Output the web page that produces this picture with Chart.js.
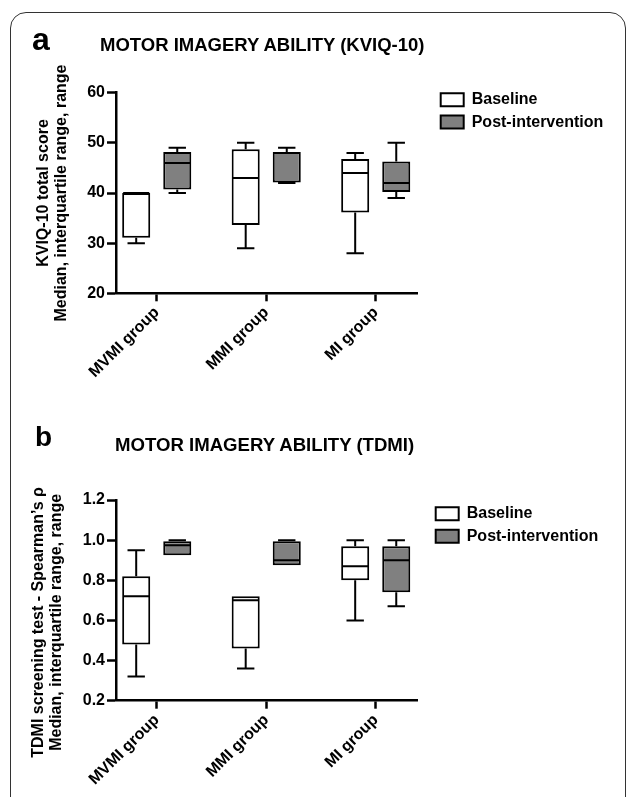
<!DOCTYPE html>
<html><head><meta charset="utf-8">
<script src="https://cdn.jsdelivr.net/npm/chart.js@4.4.1/dist/chart.umd.min.js"></script>
<style>
html,body{margin:0;padding:0;background:#fff;}
body{width:629px;height:797px;position:relative;overflow:hidden;font-family:"Liberation Sans",Arial,sans-serif;}
#frame{position:absolute;left:10px;top:12px;width:616px;height:830px;border:1.5px solid #333;border-radius:16px;box-sizing:border-box;}
.lbl{position:absolute;font-weight:bold;line-height:1;color:#000;white-space:nowrap;}
canvas{position:absolute;left:0;}
</style></head><body>
<div id="frame"></div>
<canvas id="ca" width="629" height="390" style="top:0"></canvas>
<canvas id="cb" width="629" height="397" style="top:400px"></canvas>
<div class="lbl" style="left:32px;top:23px;font-size:32px">a</div>
<div class="lbl" style="left:100px;top:35.5px;font-size:18.5px">MOTOR IMAGERY ABILITY (KVIQ-10)</div>
<div class="lbl" style="left:35px;top:423px;font-size:28px">b</div>
<div class="lbl" style="left:115px;top:436px;font-size:18.6px">MOTOR IMAGERY ABILITY (TDMI)</div>
<script>
// ---- data ----
const categories = ['MVMI group', 'MMI group', 'MI group'];
const seriesNames = ['Baseline', 'Post-intervention'];
// each entry: [min, q1, median, q3, max]
const kviqBaseline = [[30, 31.1, 40, 40, 40], [29, 33.6, 43, 48.7, 50], [28, 36.1, 44, 46.8, 48]];
const kviqPost     = [[40, 40.7, 46, 48.2, 49], [42, 42.1, 48, 48.2, 49], [39, 40.2, 42, 46.3, 50]];
const tdmiBaseline = [[0.32, 0.48, 0.72, 0.82, 0.95], [0.36, 0.46, 0.70, 0.72, 0.72], [0.60, 0.80, 0.87, 0.97, 1.00]];
const tdmiPost     = [[0.925, 0.925, 0.975, 0.995, 1.00], [0.875, 0.875, 0.90, 0.995, 1.00], [0.67, 0.74, 0.90, 0.97, 1.00]];
const kviqTicks = [20, 30, 40, 50, 60];
const tdmiTicks = [0.2, 0.4, 0.6, 0.8, 1.0, 1.2];
const kviqTitle = ['KVIQ-10 total score', 'Median, interquartile range, range'];
const tdmiTitle = ['TDMI screening test - Spearman\u2019s \u03c1', 'Median, interquartile range, range'];

// ---- plugins ----
const boxWhiskers = {
  id: 'boxWhiskers',
  afterDatasetsDraw(chart) {
    const ctx = chart.ctx, ys = chart.scales.y;
    chart.data.datasets.forEach((ds, i) => {
      const meta = chart.getDatasetMeta(i);
      if (meta.hidden) return;
      meta.data.forEach((bar, j) => {
        const s = ds.stats[j];
        const p = bar.getProps(['x', 'width'], true);
        const x = p.x, w = p.width, cap = w * 0.62;
        const yMin = ys.getPixelForValue(s[0]), yQ1 = ys.getPixelForValue(s[1]),
              yMed = ys.getPixelForValue(s[2]), yQ3 = ys.getPixelForValue(s[3]),
              yMax = ys.getPixelForValue(s[4]);
        ctx.save();
        ctx.strokeStyle = '#000';
        ctx.lineWidth = 2;
        ctx.beginPath();
        if (yQ3 - yMax > 0.5) {
          ctx.moveTo(x, yQ3); ctx.lineTo(x, yMax);
          ctx.moveTo(x - cap / 2, yMax); ctx.lineTo(x + cap / 2, yMax);
        }
        if (yMin - yQ1 > 0.5) {
          ctx.moveTo(x, yQ1); ctx.lineTo(x, yMin);
          ctx.moveTo(x - cap / 2, yMin); ctx.lineTo(x + cap / 2, yMin);
        }
        ctx.moveTo(x - w / 2 + 1, yMed); ctx.lineTo(x + w / 2 - 1, yMed);
        ctx.stroke();
        ctx.restore();
      });
    });
  }
};
const legendPlace = {
  id: 'legendPlace',
  afterLayout(chart, args, opts) {
    const lg = chart.legend;
    if (!lg) return;
    lg.left = opts.left; lg.top = opts.top;
    lg.width = 200; lg.height = 70;
    lg.right = lg.left + 200; lg.bottom = lg.top + 70;
  }
};

const boldFont = (size) => ({ family: 'Liberation Sans', size: size, weight: 'bold' });

function makeChart(id, baseStats, postStats, yTicks, yTitle, lay) {
  const mkData = (st) => st.map((s, j) => ({ x: j, y: [s[1], s[3]] }));
  return new Chart(document.getElementById(id), {
    type: 'bar',
    data: {
      datasets: [
        { label: seriesNames[0], stats: baseStats, data: mkData(baseStats),
          backgroundColor: '#ffffff', borderColor: '#000000', borderWidth: 2, borderSkipped: false },
        { label: seriesNames[1], stats: postStats, data: mkData(postStats),
          backgroundColor: '#808080', borderColor: '#000000', borderWidth: 2, borderSkipped: false }
      ]
    },
    options: {
      responsive: false, animation: false, devicePixelRatio: 1,
      datasets: { bar: { categoryPercentage: 0.75, barPercentage: 0.683 } },
      layout: { padding: { top: lay.top, left: 0, right: 212, bottom: 0 } },
      plugins: {
        tooltip: { enabled: false },
        legend: {
          position: 'chartArea', align: 'start',
          labels: { boxWidth: 23, boxHeight: 13, padding: lay.legPad, color: '#000', font: boldFont(16) }
        },
        legendPlace: { left: lay.legLeft, top: lay.legTop }
      },
      scales: {
        x: {
          type: 'linear', min: -0.372, max: 2.377, offset: false, bounds: 'data',
          afterBuildTicks: (s) => { s.ticks = categories.map((c, i) => ({ value: i })); },
          afterFit: (s) => { s.height = lay.xh; },
          ticks: { callback: (v) => categories[v], minRotation: 45, maxRotation: 45, autoSkip: false,
                   font: boldFont(16), color: '#000', padding: 2 },
          grid: { offset: false, drawOnChartArea: false, tickLength: 8, tickWidth: 2.5, tickColor: '#000' },
          border: { color: '#000', width: 2.5 }
        },
        y: {
          min: yTicks[0], max: yTicks[yTicks.length - 1],
          afterBuildTicks: (s) => { s.ticks = yTicks.map((v) => ({ value: v })); },
          afterFit: (s) => {
            s.width = 116;
            if (!s._titleShifted) {
              const orig = s.drawTitle;
              s.drawTitle = function () {
                this.ctx.save();
                this.ctx.translate(0, lay.titleShift);
                orig.call(this);
                this.ctx.restore();
              };
              s._titleShifted = true;
            }
          },
          ticks: { callback: (v) => (yTicks[1] - yTicks[0] < 1 ? v.toFixed(1) : String(v)),
                   font: boldFont(16), color: '#000', padding: 2 },
          grid: { drawOnChartArea: false, tickLength: 9, tickWidth: 2.5, tickColor: '#000' },
          border: { color: '#000', width: 2.5 },
          title: { display: true, text: yTitle, color: '#000',
                   font: { family: 'Liberation Sans', size: 16, weight: 'bold', lineHeight: 1.1 },
                   padding: { top: lay.titlePad, bottom: 0 } }
        }
      }
    },
    plugins: [boxWhiskers, legendPlace]
  });
}

makeChart('ca', kviqBaseline, kviqPost, kviqTicks, kviqTitle,
  { top: 92.7, xh: 96.7, legLeft: 434.3, legTop: 85.3, legPad: 6.4, titlePad: 35, titleShift: 0 });
makeChart('cb', tdmiBaseline, tdmiPost, tdmiTicks, tdmiTitle,
  { top: 100, xh: 96.3, legLeft: 429.2, legTop: 99.2, legPad: 6.5, titlePad: 30, titleShift: 22 });
</script>
</body></html>
